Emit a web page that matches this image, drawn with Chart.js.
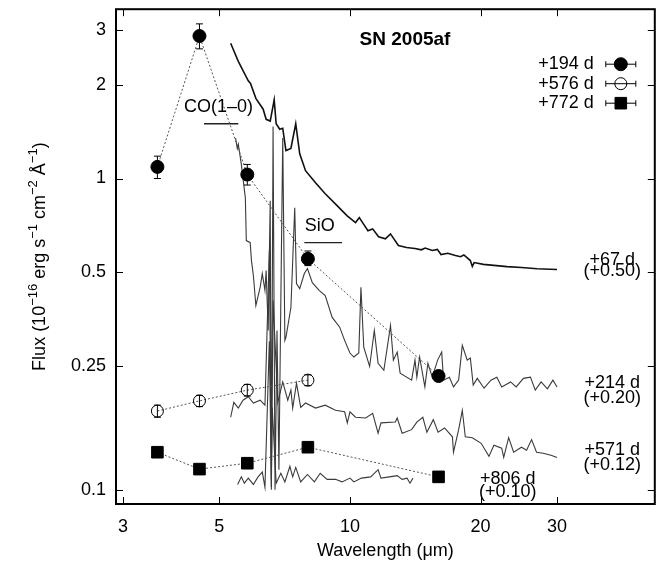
<!DOCTYPE html>
<html>
<head>
<meta charset="utf-8">
<script src="https://cdn.jsdelivr.net/npm/chart.js@4.4.0/dist/chart.umd.min.js"></script>
<style>
html, body { margin: 0; padding: 0; background: #fff; overflow: hidden; }
#wrap { width: 664px; height: 564px; }
</style>
</head>
<body>
<div id="wrap"><canvas id="c" width="664" height="564"></canvas></div>
<script>
'use strict';

// axis ticks
const xTicks = [3, 5, 10, 20, 30];
const yTicks = [0.1, 0.25, 0.5, 1, 2, 3];

// photometry bands (micron) and fluxes
const bands = [3.6, 4.5, 5.8, 8.0, 16.0];
const phot194 = [1.09, 2.87, 1.03, 0.552, 0.232];
const phot194Lo = [1.0, 2.61, 0.953, 0.525, null];
const phot194Hi = [1.18, 3.14, 1.11, 0.585, null];
const phot576 = [0.179, 0.193, 0.209, 0.225];
const phot576Lo = [0.171, 0.185, 0.200, 0.216];
const phot576Hi = [0.187, 0.201, 0.218, 0.234];
const phot772 = [0.132, 0.1165, 0.1217, 0.137, 0.110];

// molecular bands
const coBand = [4.61, 5.53];
const coLevel = 1.50;
const sioBand = [7.85, 9.59];
const sioLevel = 0.622;

// spectra (offsets already applied)
const specAWl = [5.31, 5.53, 5.83, 5.90, 6.07, 6.31, 6.41, 6.55, 6.69, 6.76, 6.89, 7.00, 7.12, 7.31, 7.50, 7.66, 7.90, 8.33, 8.77, 9.34,
    9.84, 10.30, 10.51, 10.74, 11.0, 11.28, 11.64, 12.07, 12.40, 12.93, 13.5, 14.12, 14.6, 14.9, 15.48, 15.9, 16.21, 16.8, 17.5, 17.98,
    18.3, 18.94, 19.14, 19.33, 20.3, 21.46, 23.0, 24.85, 27.0, 30.0];
const specAFlux = [2.72, 2.38, 2.06, 2.02, 1.81, 1.67, 1.55, 1.53, 1.79, 1.50, 1.44, 1.45, 1.23, 1.25, 1.50, 1.20, 1.06, 0.969, 0.893, 0.818,
    0.760, 0.722, 0.749, 0.715, 0.680, 0.689, 0.650, 0.640, 0.664, 0.609, 0.600, 0.596, 0.590, 0.598, 0.587, 0.592, 0.570, 0.575, 0.566, 0.561,
    0.568, 0.545, 0.522, 0.537, 0.530, 0.526, 0.521, 0.518, 0.513, 0.510];

const specBWl = [5.45, 5.50, 5.53, 5.62, 5.74, 5.77, 5.89, 5.93, 5.99, 6.07, 6.21, 6.28, 6.37, 6.41, 6.48, 6.55, 6.59, 6.65, 6.72, 6.79,
    6.86, 6.93, 7.00, 7.08, 7.12, 7.31, 7.46, 7.53, 7.66, 7.85, 7.98, 8.19, 8.49, 8.77, 9.10, 9.47, 9.72, 10.0, 10.21, 10.48,
    10.60, 10.76, 11.10, 11.38, 11.61, 11.97, 12.40, 12.59, 12.85, 13.05, 13.87, 14.12, 14.26, 14.47, 14.88, 15.12, 15.48, 15.92, 16.27, 16.43,
    16.95, 17.32, 17.80, 18.15, 18.63, 18.94, 19.23, 19.65, 20.37, 21.13, 21.80, 22.37, 23.45, 24.15, 25.11, 26.05, 26.73, 27.57, 28.51, 29.35, 30.0];
const specBFlux = [1.35, 1.25, 1.29, 1.11, 0.867, 0.632, 0.622, 0.545, 0.488, 0.391, 0.447, 0.495, 0.437, 0.506, 0.325, 0.848, 0.100, 1.47, 0.100, 0.325,
    0.116, 0.406, 1.35, 0.302, 0.309, 0.385, 0.806, 0.460, 0.443, 0.495, 0.514, 0.463, 0.437, 0.421, 0.358, 0.333, 0.302, 0.275, 0.267, 0.275,
    0.447, 0.287, 0.249, 0.325, 0.255, 0.242, 0.337, 0.261, 0.277, 0.237, 0.225, 0.261, 0.230, 0.267, 0.214, 0.255, 0.230, 0.261, 0.277, 0.225,
    0.230, 0.214, 0.225, 0.291, 0.261, 0.265, 0.217, 0.228, 0.212, 0.225, 0.230, 0.214, 0.222, 0.214, 0.228, 0.230, 0.209, 0.222, 0.211, 0.225, 0.214];

const specCWl = [5.31, 5.40, 5.53, 5.67, 5.83, 5.99, 6.21, 6.37, 6.52, 6.59, 6.65, 6.82, 7.00, 7.19, 7.31, 7.38, 7.53, 7.70, 7.90, 8.33,
    8.77, 9.26, 9.72, 9.86, 10.0, 10.30, 10.87, 11.28, 11.61, 11.79, 12.72, 12.85, 13.19, 13.87, 14.26, 14.72, 15.04, 15.56, 15.96, 16.52,
    17.22, 17.32, 17.80, 18.15, 18.44, 19.14, 20.06, 20.91, 21.46, 22.37, 22.61, 23.21, 23.83, 24.85, 25.53, 26.21, 26.91, 27.88, 29.06, 30.0];
const specCFlux = [0.171, 0.191, 0.183, 0.194, 0.199, 0.190, 0.194, 0.187, 0.587, 0.108, 0.406, 0.191, 0.222, 0.194, 0.209, 0.183, 0.220, 0.184, 0.190, 0.183,
    0.187, 0.180, 0.178, 0.164, 0.178, 0.171, 0.170, 0.176, 0.152, 0.164, 0.165, 0.170, 0.152, 0.156, 0.165, 0.171, 0.153, 0.168, 0.153, 0.158,
    0.148, 0.132, 0.156, 0.180, 0.148, 0.147, 0.141, 0.128, 0.139, 0.136, 0.127, 0.147, 0.132, 0.137, 0.134, 0.145, 0.132, 0.131, 0.129, 0.127];

const specDWl = [5.51, 5.62, 5.71, 5.83, 5.99, 6.14, 6.28, 6.37, 6.52, 6.59, 6.62, 6.76, 6.93, 7.08, 7.27, 7.38, 7.50, 7.70, 7.98, 8.28,
    8.54, 8.86, 9.26, 9.59, 10.0, 10.21, 10.63, 11.16, 11.61, 11.79, 12.33, 12.85, 13.19, 13.54, 13.75, 13.97];
const specDFlux = [0.104, 0.110, 0.105, 0.109, 0.104, 0.110, 0.114, 0.102, 0.300, 0.102, 0.184, 0.105, 0.113, 0.106, 0.119, 0.110, 0.118, 0.106, 0.112, 0.106,
    0.113, 0.108, 0.108, 0.106, 0.109, 0.106, 0.109, 0.110, 0.116, 0.109, 0.110, 0.111, 0.108, 0.109, 0.105, 0.109];

// text annotations: [text, wavelength, flux]
const annotations = [
    ['CO(1\u20130)', 4.98, 1.70],
    ['SiO', 8.52, 0.706],
    ['+67 d', 40.2, 0.549],
    ['(+0.50)', 40.2, 0.506],
    ['+214 d', 40.2, 0.220],
    ['(+0.20)', 40.2, 0.197],
    ['+571 d', 40.2, 0.134],
    ['(+0.12)', 40.2, 0.120],
    ['+806 d', 23.1, 0.108],
    ['(+0.10)', 23.1, 0.0985]
];
const legendLabels = ['+194 d', '+576 d', '+772 d'];
// y title pieces: [text, superscript?]
const yTitleParts = [['Flux (10', false], ['\u221216', true], [' erg s', false], ['\u22121', true],
    [' cm', false], ['\u22122', true], [' \u00c5', false], ['\u22121', true], [')', false]];

const FONT = '"Liberation Sans", Arial, Helvetica, sans-serif';

function toPoints(xs, ys) {
    return xs.map((x, i) => ({ x: x, y: ys[i] }));
}

const photStyles = [
    { pointStyle: 'circle', radius: 6.5, fill: '#000', borderWidth: 1 },
    { pointStyle: 'circle', radius: 6, fill: 'rgba(255,255,255,0)', borderWidth: 1 },
    { pointStyle: 'rect', radius: 8.2, fill: '#000', borderWidth: 1 }
];

function photDataset(label, xs, ys, st) {
    return {
        label: label,
        data: toPoints(xs, ys),
        borderColor: '#555',
        borderWidth: 1,
        borderDash: [2, 2],
        pointStyle: st.pointStyle,
        pointRadius: st.radius,
        pointBackgroundColor: st.fill,
        pointBorderColor: '#000',
        pointBorderWidth: st.borderWidth
    };
}

function specDataset(label, xs, ys, color, width) {
    return {
        label: label,
        data: toPoints(xs, ys),
        borderColor: color,
        borderWidth: width,
        pointRadius: 0
    };
}

function noPad(scale) {
    scale.paddingTop = 0;
    scale.paddingBottom = 0;
    scale.paddingLeft = 0;
    scale.paddingRight = 0;
}

const decorPlugin = {
    id: 'decor',
    afterDatasetsDraw(chart) {
        const ctx = chart.ctx;
        const xs = chart.scales.x;
        const ys = chart.scales.y;
        const area = chart.chartArea;
        ctx.save();

        // error bars
        ctx.strokeStyle = '#000';
        ctx.lineWidth = 1;
        const errSets = [[bands, phot194Lo, phot194Hi], [bands, phot576Lo, phot576Hi]];
        errSets.forEach((set) => {
            set[0].forEach((wl, i) => {
                if (set[1][i] == null) return;
                const px = xs.getPixelForValue(wl);
                const lo = ys.getPixelForValue(set[1][i]);
                const hi = ys.getPixelForValue(set[2][i]);
                ctx.beginPath();
                ctx.moveTo(px, lo); ctx.lineTo(px, hi);
                ctx.moveTo(px - 3.5, lo); ctx.lineTo(px + 3.5, lo);
                ctx.moveTo(px - 3.5, hi); ctx.lineTo(px + 3.5, hi);
                ctx.stroke();
            });
        });

        // text labels
        ctx.fillStyle = '#000';
        ctx.font = '18px ' + FONT;
        ctx.textAlign = 'center';
        ctx.textBaseline = 'middle';
        annotations.forEach((a) => {
            ctx.fillText(a[0], xs.getPixelForValue(a[1]), ys.getPixelForValue(a[2]));
        });

        // frame and inward ticks
        ctx.lineWidth = 2;
        ctx.strokeRect(area.left, area.top, area.right - area.left, area.bottom - area.top);
        ctx.lineWidth = 1;
        ctx.beginPath();
        xTicks.forEach((v) => {
            const px = Math.round(xs.getPixelForValue(v)) + 0.5;
            ctx.moveTo(px, area.bottom); ctx.lineTo(px, area.bottom - 7);
            ctx.moveTo(px, area.top); ctx.lineTo(px, area.top + 7);
        });
        yTicks.forEach((v) => {
            const py = Math.round(ys.getPixelForValue(v)) + 0.5;
            ctx.moveTo(area.left, py); ctx.lineTo(area.left + 7, py);
            ctx.moveTo(area.right, py); ctx.lineTo(area.right - 7, py);
        });
        ctx.stroke();

        // title
        ctx.font = 'bold 19px ' + FONT;
        ctx.textAlign = 'center';
        ctx.fillText('SN 2005af', area.left + 289, area.top + 31);

        // legend
        ctx.font = '18px ' + FONT;
        ctx.textAlign = 'right';
        legendLabels.forEach((lab, i) => {
            const y = area.top + 55 + i * 19.5;
            const sx = area.right - 34;
            ctx.fillStyle = '#000';
            ctx.fillText(lab, area.right - 61, y);
            ctx.lineWidth = 1;
            ctx.beginPath();
            ctx.moveTo(sx - 15, y); ctx.lineTo(sx + 15, y);
            ctx.moveTo(sx - 15, y - 3); ctx.lineTo(sx - 15, y + 3);
            ctx.moveTo(sx + 15, y - 3); ctx.lineTo(sx + 15, y + 3);
            ctx.stroke();
            const st = photStyles[i];
            ctx.fillStyle = st.fill;
            ctx.strokeStyle = '#000';
            Chart.helpers.drawPoint(ctx, { pointStyle: st.pointStyle, radius: st.radius, borderWidth: st.borderWidth, rotation: 0 }, sx, y);
        });

        // y axis title with superscripts
        ctx.save();
        ctx.translate(40, (area.top + area.bottom) / 2);
        ctx.rotate(-Math.PI / 2);
        ctx.fillStyle = '#000';
        ctx.textAlign = 'left';
        ctx.textBaseline = 'middle';
        const baseFont = '18px ' + FONT;
        const supFont = '13px ' + FONT;
        let total = 0;
        yTitleParts.forEach((p) => {
            ctx.font = p[1] ? supFont : baseFont;
            total += ctx.measureText(p[0]).width;
        });
        let cx = -total / 2;
        yTitleParts.forEach((p) => {
            ctx.font = p[1] ? supFont : baseFont;
            ctx.fillText(p[0], cx, p[1] ? -7 : 0);
            cx += ctx.measureText(p[0]).width;
        });
        ctx.restore();

        ctx.restore();
    }
};

const ctx = document.getElementById('c').getContext('2d');
new Chart(ctx, {
    type: 'line',
    data: {
        datasets: [
            photDataset('+194 d', bands, phot194, photStyles[0]),
            photDataset('+576 d', bands.slice(0, 4), phot576, photStyles[1]),
            photDataset('+772 d', bands, phot772, photStyles[2]),
            specDataset('CO', coBand, [coLevel, coLevel], '#222', 1.3),
            specDataset('SiO', sioBand, [sioLevel, sioLevel], '#222', 1.3),
            specDataset('+67 d', specAWl, specAFlux, '#111', 1.6),
            specDataset('+214 d', specBWl, specBFlux, '#3a3a3a', 1.1),
            specDataset('+571 d', specCWl, specCFlux, '#3a3a3a', 1.1),
            specDataset('+806 d', specDWl, specDFlux, '#3a3a3a', 1.1)
        ]
    },
    options: {
        responsive: false,
        animation: false,
        devicePixelRatio: 1,
        layout: { padding: { top: 8, right: 2, left: 0, bottom: 0 } },
        elements: { line: { tension: 0 } },
        plugins: {
            legend: { display: false },
            tooltip: { enabled: false }
        },
        scales: {
            x: {
                type: 'logarithmic',
                min: 2.89,
                max: 50.4,
                grid: { display: false, drawTicks: false },
                border: { display: false },
                afterBuildTicks: (scale) => { scale.ticks = xTicks.map((v) => ({ value: v })); },
                afterFit: (scale) => { scale.height = 60; noPad(scale); },
                ticks: {
                    autoSkip: false,
                    maxRotation: 0,
                    padding: 12,
                    color: '#000',
                    font: { family: FONT, size: 18 },
                    callback: (v) => String(v)
                },
                title: {
                    display: true,
                    text: 'Wavelength (\u03bcm)',
                    color: '#000',
                    font: { family: FONT, size: 18 },
                    padding: { top: 0, bottom: 2 }
                }
            },
            y: {
                type: 'logarithmic',
                min: 0.09,
                max: 3.5,
                grid: { display: false, drawTicks: false },
                border: { display: false },
                afterBuildTicks: (scale) => { scale.ticks = yTicks.map((v) => ({ value: v })); },
                afterFit: (scale) => { scale.width = 116; noPad(scale); },
                ticks: {
                    autoSkip: false,
                    padding: 10,
                    color: '#000',
                    font: { family: FONT, size: 18 },
                    callback: (v) => String(v)
                }
            }
        }
    },
    plugins: [decorPlugin]
});
</script>
</body>
</html>
